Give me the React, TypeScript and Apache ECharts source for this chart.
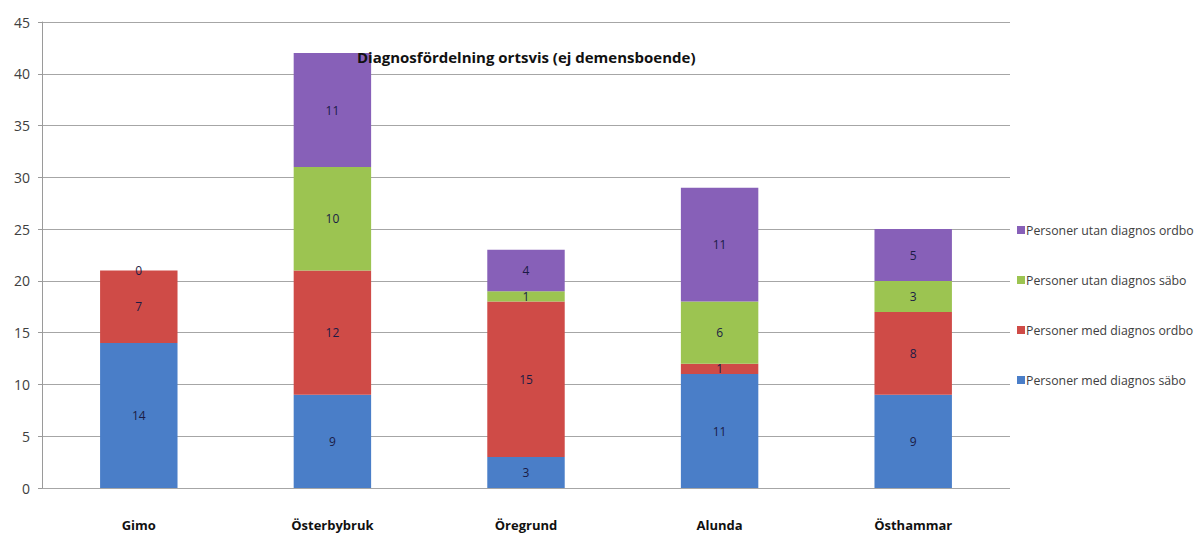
import React, { useEffect, useRef } from "react";
import * as echarts from "echarts";

// Orter (kategorier)
const places = ["Gimo", "Österbybruk", "Öregrund", "Alunda", "Östhammar"];

// Antal personer per ort och grupp
const medDiagnosSabo = [14, 9, 3, 11, 9];
const medDiagnosOrdbo = [7, 12, 15, 1, 8];
const utanDiagnosSabo = [0, 10, 1, 6, 3];
const utanDiagnosOrdbo: (number | string)[] = ["-", 11, 4, 11, 5];

const seriesNames = [
  "Personer med diagnos säbo",
  "Personer med diagnos ordbo",
  "Personer utan diagnos säbo",
  "Personer utan diagnos ordbo",
];
const seriesColors = ["#4a7ec8", "#cf4b47", "#9cc451", "#8760b8"];

const FONT = "'Open Sans', 'Noto Sans', sans-serif";

export default function App() {
  const ref = useRef<HTMLDivElement>(null);

  useEffect(() => {
    if (!ref.current) return;
    const chart = echarts.init(ref.current, undefined, { renderer: "svg" });
    const values = [medDiagnosSabo, medDiagnosOrdbo, utanDiagnosSabo, utanDiagnosOrdbo];

    chart.setOption({
      animation: false,
      backgroundColor: "#ffffff",
      title: {
        text: "Diagnosfördelning ortsvis (ej demensboende)",
        left: 352,
        top: 44,
        textStyle: { fontFamily: FONT, fontSize: 15, fontWeight: "bold", color: "#111" },
      },
      legend: {
        orient: "vertical",
        left: 1012,
        top: 219,
        itemGap: 38,
        itemWidth: 8,
        itemHeight: 8,
        icon: "rect",
        data: [seriesNames[3], seriesNames[2], seriesNames[1], seriesNames[0]],
        textStyle: { fontFamily: FONT, fontSize: 12.3, color: "#404040", padding: [0, 0, 0, -4] },
      },
      grid: { left: 42, right: 192, top: 22, bottom: 46 },
      xAxis: {
        type: "category",
        data: places,
        axisLine: { show: false },
        axisTick: { show: false },
        axisLabel: {
          margin: 30,
          fontFamily: FONT,
          fontSize: 13,
          fontWeight: "bold",
          color: "#111",
        },
      },
      yAxis: {
        type: "value",
        min: 0,
        max: 45,
        interval: 5,
        axisLine: { show: true, lineStyle: { color: "#9a9a9a" } },
        axisTick: { show: true, length: 4, lineStyle: { color: "#9a9a9a" } },
        axisLabel: { margin: 12, fontFamily: FONT, fontSize: 14, color: "#404040" },
        splitLine: { lineStyle: { color: "#a6a6a6", width: 1 } },
      },
      series: seriesNames.map((name, i) => ({
        name,
        type: "bar",
        stack: "total",
        barWidth: "40%",
        data: values[i],
        itemStyle: { color: seriesColors[i] },
        label: {
          show: true,
          position: "inside",
          fontFamily: FONT,
          fontSize: 12,
          color: "#1b1b45",
        },
      })),
    });

    return () => chart.dispose();
  }, []);

  return (
    <div
      ref={ref}
      style={{ position: "fixed", left: 0, top: 0, width: 1202, height: 534, background: "#fff" }}
    />
  );
}
